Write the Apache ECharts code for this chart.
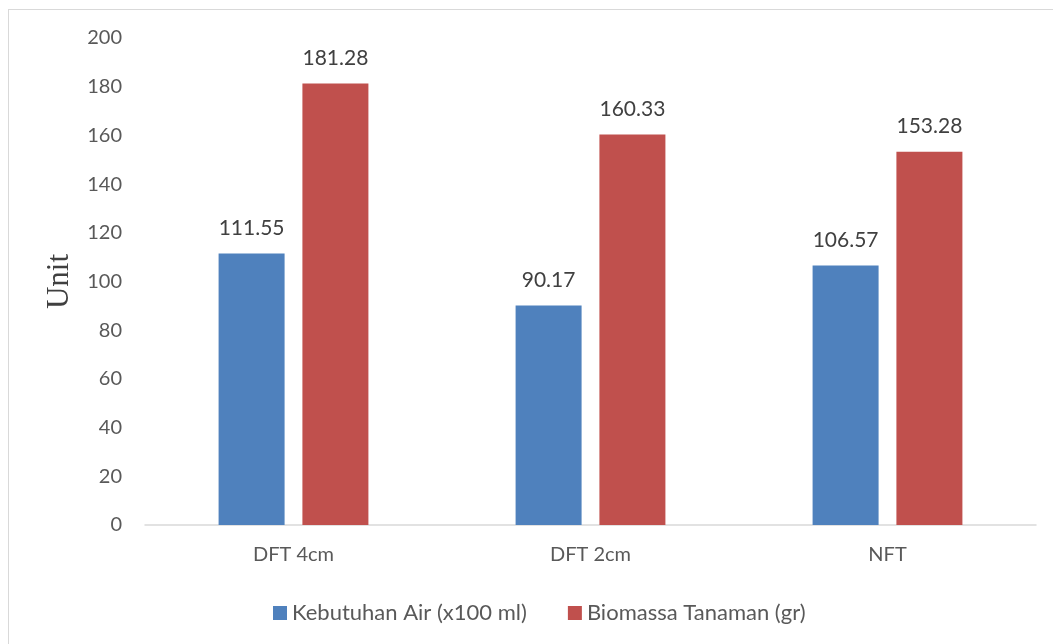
<!DOCTYPE html>
<html>
<head>
<meta charset="utf-8">
<script src="https://cdn.jsdelivr.net/npm/echarts@6/dist/echarts.min.js"></script>
<style>
  html, body { margin: 0; padding: 0; background: #fff; }
  #frame { position: absolute; left: 8px; top: 9px; width: 1060px; height: 660px;
           border: 1px solid #d9d9d9; box-sizing: border-box; }
  #chart { position: absolute; left: 0; top: 0; width: 1053px; height: 644px; }
</style>
</head>
<body>
<div id="frame"></div>
<div id="chart"></div>
<script>
// Categories and series values
const categories = ['DFT 4cm', 'DFT 2cm', 'NFT'];
const kebutuhanAir = [111.55, 90.17, 106.57];
const biomassa = [181.28, 160.33, 153.28];
const seriesNames = ['Kebutuhan Air (x100 ml)', 'Biomassa Tanaman (gr)'];
const yTicks = { min: 0, max: 200, interval: 20 };

const font = 'Lato, "Open Sans", sans-serif';
const chart = echarts.init(document.getElementById('chart'));

const labelStyle = {
  show: true,
  position: 'top',
  distance: 15,
  fontFamily: font,
  fontSize: 21,
  color: '#404040',
  formatter: p => p.value.toFixed(2)
};

chart.setOption({
  animation: false,
  grid: { left: 145, right: 17, top: 38, bottom: 119 },
  legend: {
    left: 268,
    top: 597,
    itemWidth: 14,
    itemHeight: 14,
    itemGap: 41,
    icon: 'rect',
    textStyle: { fontFamily: font, fontSize: 22, color: '#595959', padding: [0, 0, 0, 0] },
    data: seriesNames
  },
  xAxis: {
    type: 'category',
    data: categories,
    axisLine: { lineStyle: { color: '#d9d9d9', width: 1.5 } },
    axisTick: { show: false },
    axisLabel: { fontFamily: font, fontSize: 20, color: '#595959', margin: 20 }
  },
  yAxis: {
    type: 'value',
    min: yTicks.min,
    max: yTicks.max,
    interval: yTicks.interval,
    name: 'Unit',
    nameLocation: 'middle',
    nameGap: 70,
    nameRotate: 90,
    nameTextStyle: { fontFamily: '"Liberation Serif", "DejaVu Serif", serif', fontSize: 31, color: '#404040' },
    axisLine: { show: false },
    axisTick: { show: false },
    splitLine: { show: false },
    axisLabel: { fontFamily: font, fontSize: 20, color: '#595959', margin: 23 }
  },
  series: [
    {
      name: seriesNames[0],
      type: 'bar',
      data: kebutuhanAir,
      barWidth: 66,
      barGap: '27%',
      itemStyle: { color: '#4F81BD' },
      label: labelStyle
    },
    {
      name: seriesNames[1],
      type: 'bar',
      data: biomassa,
      barWidth: 66,
      itemStyle: { color: '#C0504D' },
      label: labelStyle
    }
  ]
});
</script>
</body>
</html>
